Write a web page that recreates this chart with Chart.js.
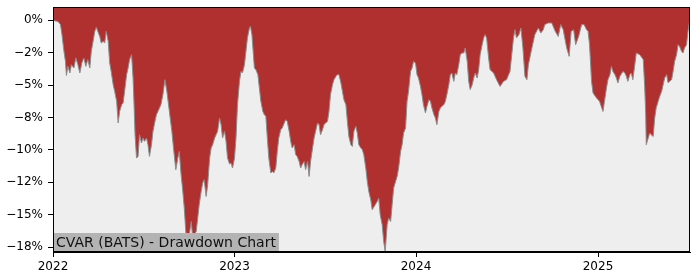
<!DOCTYPE html>
<html>
<head>
<meta charset="utf-8">
<script src="https://cdn.jsdelivr.net/npm/chart.js@4.4.1/dist/chart.umd.min.js"></script>
<style>
  html, body { margin: 0; padding: 0; background: #ffffff; }
  #wrap { width: 700px; height: 280px; }
</style>
</head>
<body>
<div id="wrap"><canvas id="c" width="700" height="280"></canvas></div>
<script>
// Days since 2022-01-01
const days = [0,1,10,15,18,22,25,27,30,34,37,42,46,50,54,58,62,66,70,74,77,80,84,87,90,94,97,101,104,107,111,114,117,121,124,128,131,134,138,141,144,148,151,154,158,161,163,165,168,171,174,178,181,184,188,191,194,198,201,205,208,211,217,221,225,229,234,239,243,247,251,254,257,261,264,267,271,274,278,281,284,288,291,294,298,301,304,308,311,315,318,321,325,328,331,335,338,341,345,348,351,355,358,361,365,368,371,375,378,381,385,388,391,395,397,400,403,405,408,412,415,418,422,425,428,431,434,438,441,444,448,451,454,458,461,465,468,471,475,478,481,485,488,491,495,498,501,505,508,512,515,518,522,525,528,532,535,538,542,545,548,552,555,558,562,565,569,572,575,579,582,585,589,592,595,599,602,605,609,612,615,619,622,625,629,632,635,639,642,646,648,652,655,658,662,665,668,672,675,679,682,685,689,692,695,699,702,705,709,712,715,719,722,725,729,732,735,739,742,745,749,752,756,759,762,766,769,772,776,779,782,786,789,792,796,799,802,806,809,812,816,819,822,826,829,833,836,839,843,846,849,853,856,859,863,866,869,872,876,879,886,892,899,906,912,919,926,929,932,937,941,945,949,953,956,963,969,976,981,986,989,996,1003,1010,1016,1021,1026,1033,1038,1042,1047,1051,1057,1063,1068,1073,1076,1079,1083,1086,1093,1099,1106,1109,1113,1116,1120,1123,1126,1130,1133,1136,1140,1146,1150,1153,1156,1160,1163,1166,1170,1173,1180,1187,1190,1192,1193,1197,1200,1203,1207,1210,1213,1217,1220,1224,1227,1230,1234,1237,1240,1244,1247,1250,1254,1257,1260,1264,1267,1270,1274,1277,1280];
// Drawdown in percent
const drawdown = [0,-0.02,-0.08,-0.33,-1.10,-2.39,-3.17,-4.25,-3.55,-4.06,-3.42,-3.68,-2.90,-3.42,-4.06,-3.29,-2.90,-3.55,-3.03,-3.68,-2.39,-1.75,-0.85,-0.54,-0.85,-1.24,-1.75,-1.62,-1.75,-0.85,-1.62,-3.29,-3.94,-4.97,-5.48,-6.25,-7.92,-7.03,-6.51,-6.38,-5.48,-4.19,-3.68,-3.03,-2.65,-4.45,-6.51,-8.83,-10.63,-10.50,-8.83,-9.47,-9.08,-9.34,-9.08,-9.60,-10.50,-9.60,-8.57,-7.80,-7.28,-7.03,-6.51,-5.74,-4.58,-5.48,-7.03,-8.57,-10.12,-11.53,-10.63,-10.12,-11.66,-13.20,-14.49,-16.29,-17.58,-16.55,-15.52,-16.80,-16.55,-16.29,-15.26,-14.23,-13.20,-12.56,-12.30,-13.59,-12.69,-10.63,-9.85,-9.60,-9.08,-8.83,-8.57,-7.54,-8.05,-9.08,-8.57,-9.34,-10.63,-11.09,-11.01,-11.40,-10.63,-9.08,-6.51,-4.71,-3.94,-4.06,-3.42,-2.39,-1.36,-0.59,-0.46,-1.10,-2.65,-3.68,-3.81,-4.19,-5.22,-6.25,-7.03,-7.28,-7.41,-9.08,-10.63,-11.78,-11.66,-11.78,-11.40,-10.12,-9.08,-8.44,-8.31,-7.92,-7.67,-7.80,-8.57,-9.34,-9.85,-9.60,-10.37,-10.50,-10.89,-11.40,-11.14,-10.89,-11.53,-10.89,-12.05,-10.89,-9.85,-9.08,-8.57,-7.92,-8.05,-8.83,-8.44,-8.05,-7.92,-7.80,-7.03,-5.74,-4.97,-4.58,-4.32,-4.19,-4.19,-4.83,-5.48,-6.12,-6.51,-7.80,-8.96,-9.60,-9.73,-8.57,-8.18,-8.70,-9.60,-9.85,-9.98,-10.37,-11.40,-12.43,-13.20,-13.85,-14.62,-14.36,-14.23,-13.98,-13.71,-15.00,-15.78,-17.07,-17.84,-15.78,-15.26,-15.52,-14.23,-12.94,-12.43,-12.05,-11.40,-10.12,-9.60,-8.70,-8.31,-6.25,-5.48,-3.94,-3.68,-3.17,-3.29,-4.19,-4.45,-5.10,-5.74,-6.51,-7.15,-6.64,-6.12,-6.25,-6.76,-7.28,-7.54,-8.05,-7.03,-6.76,-6.64,-6.51,-6.25,-5.74,-4.97,-4.19,-4.06,-4.71,-4.06,-4.19,-3.42,-2.65,-2.52,-2.52,-2.13,-3.17,-4.71,-5.35,-4.97,-4.45,-4.06,-4.45,-3.81,-2.65,-1.88,-1.36,-1.10,-1.36,-2.90,-3.81,-4.06,-4.58,-5.10,-4.71,-4.58,-3.94,-1.36,-0.72,-1.36,-1.10,-0.59,-2.13,-4.32,-4.58,-3.42,-2.13,-1.10,-0.59,-0.98,-0.72,-0.33,-0.20,-0.20,-0.85,-1.24,-0.33,-0.72,-2.13,-2.78,-0.85,-0.72,-1.88,-1.24,-0.33,-0.33,-0.72,-0.85,-1.88,-4.71,-5.61,-5.99,-6.25,-7.03,-6.25,-5.22,-4.58,-4.19,-3.55,-3.94,-4.19,-4.45,-4.83,-4.32,-3.94,-4.06,-4.32,-4.71,-4.19,-4.06,-4.58,-3.42,-2.52,-2.65,-3.03,-5.22,-7.28,-9.60,-9.08,-8.70,-8.83,-8.96,-7.54,-6.76,-6.25,-5.87,-5.48,-4.97,-4.45,-4.19,-4.83,-4.71,-4.58,-3.94,-3.17,-2.65,-1.88,-2.01,-2.39,-2.52,-2.13,-1.88,-0.85,-0.10];

const yTickValues = [0, -2.5, -5, -7.5, -10, -12.5, -15, -17.5];
const yTickLabels = ['0%', '\u22122%', '\u22125%', '\u22128%', '\u221210%', '\u221212%', '\u221215%', '\u221218%'];
const xTickValues = [0, 365, 730, 1096];
const xTickLabels = ['2022', '2023', '2024', '2025'];
const chartTitle = 'CVAR (BATS) - Drawdown Chart';

const FONT = "'DejaVu Sans', sans-serif";

const frame = {
  id: 'frame',
  beforeDatasetsDraw(chart) {
    const a = chart.chartArea, ctx = chart.ctx;
    ctx.save();
    ctx.fillStyle = '#eeeeee';
    ctx.fillRect(a.left, a.top, a.right - a.left, a.bottom - a.top);
    ctx.restore();
  },
  afterDatasetsDraw(chart) {
    const a = chart.chartArea, ctx = chart.ctx;
    ctx.save();
    ctx.font = "14px " + FONT;
    const w = ctx.measureText(chartTitle).width;
    ctx.fillStyle = '#b3b3b3';
    ctx.fillRect(a.left, a.bottom - 19, w + 6, 19);
    ctx.fillStyle = '#111111';
    ctx.textBaseline = 'alphabetic';
    ctx.fillText(chartTitle, a.left + 3, a.bottom - 5);
    ctx.strokeStyle = '#000000';
    ctx.lineWidth = 1;
    ctx.strokeRect(Math.round(a.left) + 0.5, Math.round(a.top) + 0.5, Math.round(a.right - a.left) - 1, Math.round(a.bottom - a.top) - 1);
    ctx.restore();
  }
};

function noOverflow(s) {
  s.paddingTop = 0; s.paddingBottom = 0; s.paddingLeft = 0; s.paddingRight = 0;
}

new Chart(document.getElementById('c'), {
  type: 'line',
  data: {
    datasets: [{
      data: days.map((d, i) => ({ x: d, y: drawdown[i] })),
      borderColor: '#8c8c8c',
      borderWidth: 1,
      backgroundColor: '#b03030',
      fill: 'end',
      pointRadius: 0,
      tension: 0
    }]
  },
  options: {
    responsive: false,
    animation: false,
    devicePixelRatio: 1,
    layout: { padding: { top: 7, right: 10, left: 0, bottom: 0 } },
    plugins: { legend: { display: false }, tooltip: { enabled: false }, title: { display: false } },
    scales: {
      x: {
        type: 'linear',
        min: 0,
        max: 1281,
        afterBuildTicks(s) { s.ticks = xTickValues.map(v => ({ value: v })); },
        afterFit(s) { s.height = 28; noOverflow(s); },
        ticks: {
          autoSkip: false,
          maxRotation: 0,
          padding: 3,
          color: '#000000',
          font: { family: FONT, size: 12 },
          callback(v) { const i = xTickValues.indexOf(v); return i >= 0 ? xTickLabels[i] : ''; }
        },
        grid: { display: true, drawOnChartArea: false, drawTicks: true, tickLength: 5, tickColor: '#000000', tickWidth: 1 },
        border: { display: true, color: '#000000', width: 1 }
      },
      y: {
        type: 'linear',
        min: -17.88,
        max: 1.03,
        afterBuildTicks(s) { s.ticks = yTickValues.map(v => ({ value: v })); },
        afterFit(s) { s.width = 53; noOverflow(s); },
        ticks: {
          autoSkip: false,
          padding: 5,
          color: '#000000',
          font: { family: FONT, size: 12 },
          callback(v) { const i = yTickValues.indexOf(v); return i >= 0 ? yTickLabels[i] : ''; }
        },
        grid: { display: true, drawOnChartArea: false, drawTicks: true, tickLength: 5, tickColor: '#000000', tickWidth: 1 },
        border: { display: true, color: '#000000', width: 1 }
      }
    }
  },
  plugins: [frame]
});
</script>
</body>
</html>
